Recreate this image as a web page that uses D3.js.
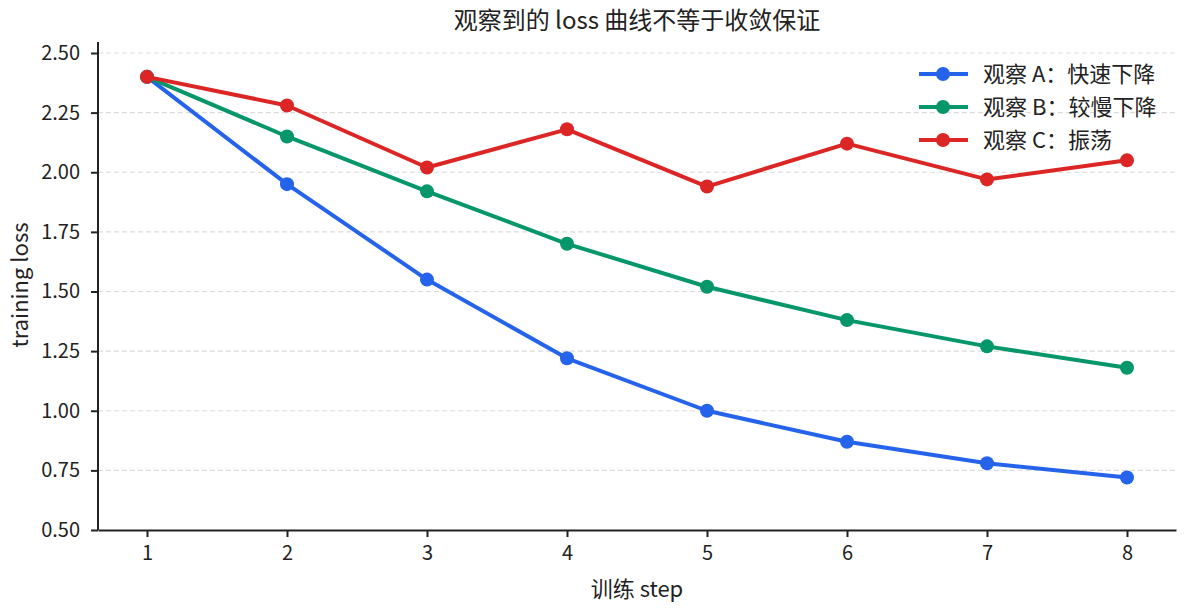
<!DOCTYPE html>
<html>
<head>
<meta charset="utf-8">
<script src="https://cdn.jsdelivr.net/npm/d3@7"></script>
<style>
  body { margin: 0; background: #fff; }
  text { font-family: "Noto Sans CJK SC", "Noto Sans", sans-serif; fill: #222; }
</style>
</head>
<body>
<svg id="chart" width="1184" height="608"></svg>
<script>
const steps = [1, 2, 3, 4, 5, 6, 7, 8];
const lossA = [2.40, 1.95, 1.55, 1.22, 1.00, 0.87, 0.78, 0.72];
const lossB = [2.40, 2.15, 1.92, 1.70, 1.52, 1.38, 1.27, 1.18];
const lossC = [2.40, 2.28, 2.02, 2.18, 1.94, 2.12, 1.97, 2.05];
const seriesNames = ["观察 A：快速下降", "观察 B：较慢下降", "观察 C：振荡"];
const colors = ["#2563eb", "#059669", "#dc2626"];
const yTicks = [0.5, 0.75, 1.0, 1.25, 1.5, 1.75, 2.0, 2.25, 2.5];

const svg = d3.select("#chart");
const plotL = 98, plotR = 1176, plotT = 42, plotB = 530;

const x = d3.scaleLinear().domain([0.65, 8.35]).range([plotL, plotR]);
const y = d3.scaleLinear().domain([0.5, 2.5]).range([plotB, 53]);

// grid
svg.append("g")
  .selectAll("line")
  .data(yTicks.slice(1))
  .enter()
  .append("line")
  .attr("x1", plotL).attr("x2", plotR)
  .attr("y1", d => y(d)).attr("y2", d => y(d))
  .attr("stroke", "#dcdcdc")
  .attr("stroke-width", 1.2)
  .attr("stroke-dasharray", "5,3");

// axes
const xAxis = svg.append("g")
  .attr("transform", `translate(0,${plotB})`)
  .call(d3.axisBottom(x).tickValues(steps).tickFormat(d3.format("d")).tickSize(7).tickSizeOuter(0).tickPadding(9));
const yAxis = svg.append("g")
  .attr("transform", `translate(${plotL},0)`)
  .call(d3.axisLeft(y).tickValues(yTicks).tickFormat(d3.format(".2f")).tickSize(7).tickSizeOuter(0).tickPadding(11));
yAxis.select(".domain").attr("d", `M0,${plotB}V${plotT}`);
svg.selectAll(".domain, .tick line").attr("stroke", "#222").attr("stroke-width", 2);
svg.selectAll(".tick text").style("font-size", "20px").attr("fill", "#222")
  .style("font-family", '"Noto Sans CJK SC", "Noto Sans", sans-serif');

// lines
const allSeries = [lossA, lossB, lossC];
const line = d3.line().x((d, i) => x(steps[i])).y(d => y(d));

allSeries.forEach((vals, k) => {
  const g = svg.append("g");
  g.append("path")
    .datum(vals)
    .attr("d", line)
    .attr("fill", "none")
    .attr("stroke", colors[k])
    .attr("stroke-width", 4)
    .attr("stroke-linejoin", "round");
  g.selectAll("circle")
    .data(vals)
    .enter()
    .append("circle")
    .attr("cx", (d, i) => x(steps[i]))
    .attr("cy", d => y(d))
    .attr("r", 7)
    .attr("fill", colors[k]);
});

// legend
const legend = svg.append("g");
seriesNames.forEach((name, k) => {
  const ly = 74 + k * 33;
  legend.append("line")
    .attr("x1", 919).attr("x2", 968).attr("y1", ly).attr("y2", ly)
    .attr("stroke", colors[k]).attr("stroke-width", 4);
  legend.append("circle").attr("cx", 943).attr("cy", ly).attr("r", 7).attr("fill", colors[k]);
  legend.append("text").text(name)
    .attr("x", 983).attr("y", ly).attr("dy", "0.35em")
    .style("font-size", "22px");
});

// labels
svg.append("text").text("观察到的 loss 曲线不等于收敛保证")
  .attr("x", (plotL + plotR) / 2).attr("y", 29)
  .attr("text-anchor", "middle").style("font-size", "24px");
svg.append("text").text("训练 step")
  .attr("x", (plotL + plotR) / 2).attr("y", 597)
  .attr("text-anchor", "middle").style("font-size", "22px");
svg.append("text").text("training loss")
  .attr("transform", `translate(28,285) rotate(-90)`)
  .attr("text-anchor", "middle").style("font-size", "22px");
</script>
</body>
</html>
